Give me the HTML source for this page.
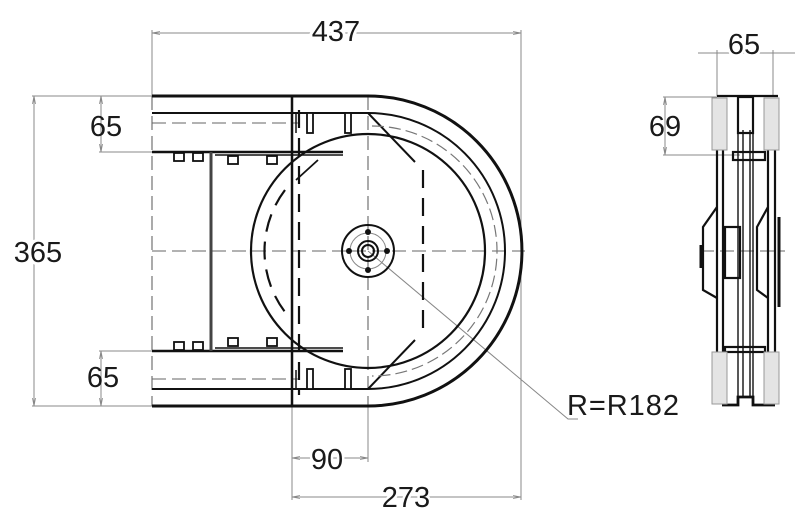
<!DOCTYPE html>
<html><head><meta charset="utf-8"><style>
html,body{margin:0;padding:0;background:#fff;}
svg{display:block;}
text{font-family:"Liberation Sans",sans-serif;fill:#1a1a1a;}
</style></head><body>
<svg width="800" height="522" viewBox="0 0 800 522" xmlns="http://www.w3.org/2000/svg">
<defs>
<marker id="a" markerWidth="8" markerHeight="6" refX="8" refY="3" orient="auto-start-reverse" markerUnits="userSpaceOnUse"><path d="M0,1.5 L8,3 L0,4.5" fill="none" stroke="#888" stroke-width="0.8"/></marker>
</defs>
<g stroke="#888" stroke-width="1" fill="none">
<line x1="152" y1="33" x2="521" y2="33" marker-start="url(#a)" marker-end="url(#a)"/>
<line x1="152" y1="30" x2="152" y2="96"/>
<line x1="521" y1="30" x2="521" y2="500"/>
<line x1="34" y1="96" x2="34" y2="406" marker-start="url(#a)" marker-end="url(#a)"/>
<line x1="32" y1="96" x2="152" y2="96"/>
<line x1="32" y1="406" x2="152" y2="406"/>
<line x1="101" y1="96" x2="101" y2="152" marker-start="url(#a)" marker-end="url(#a)"/>
<line x1="99" y1="152" x2="152" y2="152"/>
<line x1="101" y1="351" x2="101" y2="406" marker-start="url(#a)" marker-end="url(#a)"/>
<line x1="99" y1="351" x2="152" y2="351"/>
<line x1="292" y1="406" x2="292" y2="500"/>
<line x1="368" y1="406" x2="368" y2="462"/>
<line x1="292" y1="458" x2="368" y2="458" marker-start="url(#a)" marker-end="url(#a)"/>
<line x1="292" y1="497" x2="521" y2="497" marker-start="url(#a)" marker-end="url(#a)"/>
<polyline points="368,251 568,419 578,419"/>
<line x1="698" y1="53" x2="795" y2="53"/>
<line x1="717" y1="50" x2="717" y2="96"/>
<line x1="773" y1="50" x2="773" y2="96"/>
<line x1="665" y1="97" x2="665" y2="155" marker-start="url(#a)" marker-end="url(#a)"/>
<line x1="663" y1="97" x2="717" y2="97"/>
<line x1="663" y1="155" x2="740" y2="155"/>
</g>
<g stroke="#666" stroke-width="1.1" fill="none" stroke-dasharray="14,6">
<line x1="152" y1="251" x2="525" y2="251"/>
<line x1="152" y1="96" x2="152" y2="406"/>
<line x1="368" y1="96" x2="368" y2="406"/>
<line x1="292" y1="96" x2="292" y2="406"/>
<line x1="700" y1="251" x2="785" y2="251"/>
<line x1="152" y1="123" x2="300" y2="123"/>
<line x1="152" y1="379" x2="300" y2="379"/>
</g>
<g stroke="#111" stroke-width="2.2" fill="none">
<path d="M152,96 H368 A154,155 0 0 1 368,406 H152" stroke-width="3"/>
<path d="M152,113 H368 A137,138 0 0 1 368,389 H152" stroke-width="2"/>
<line x1="292" y1="96" x2="292" y2="406" stroke-width="2.5"/>
<path d="M296,113 V133 M296,370 V389" stroke-width="1.5"/>
<circle cx="368" cy="251" r="117" stroke-width="2.2"/>
<line x1="152" y1="152" x2="343" y2="152" stroke-width="2.5"/>
<line x1="152" y1="351" x2="343" y2="351" stroke-width="2.5"/>
<line x1="215" y1="155" x2="343" y2="155" stroke-width="1.4"/>
<line x1="215" y1="348" x2="343" y2="348" stroke-width="1.4"/>
<line x1="211" y1="152" x2="211" y2="351" stroke-width="3" stroke="#444"/>
<line x1="368" y1="113" x2="415" y2="162" stroke-width="2"/>
<line x1="368" y1="389" x2="415" y2="340" stroke-width="2"/>
<line x1="296" y1="180" x2="318" y2="160" stroke-width="1.8"/>
</g>
<g stroke="#111" stroke-width="2.2" fill="none" stroke-dasharray="18,10">
<path d="M299,110 V395"/>
<path d="M423,170 V330"/>
<path d="M285,190 A101,101 0 0 0 285,312"/>
</g>
<path d="M372,126 A125,125 0 0 1 372,376" stroke="#777" stroke-width="1.2" fill="none" stroke-dasharray="12,5"/>
<g stroke="#111" stroke-width="1.8" fill="#fff">
<rect x="174" y="153" width="10" height="8"/><rect x="193" y="153" width="10" height="8"/>
<rect x="228" y="156" width="10" height="8"/><rect x="267" y="156" width="10" height="8"/>
<rect x="174" y="342" width="10" height="8"/><rect x="193" y="342" width="10" height="8"/>
<rect x="228" y="338" width="10" height="8"/><rect x="267" y="338" width="10" height="8"/>
<rect x="307" y="113" width="6" height="20"/><rect x="345" y="113" width="6" height="20"/>
<rect x="307" y="369" width="6" height="20"/><rect x="345" y="369" width="6" height="20"/>
</g>
<g stroke="#111" stroke-width="2" fill="none">
<circle cx="368" cy="251" r="26"/>
<circle cx="368" cy="251" r="10"/>
<circle cx="368" cy="251" r="6"/>
<circle cx="368" cy="251" r="18" stroke="#888" stroke-width="1"/>
</g>
<g fill="#111"><circle cx="349" cy="251" r="3"/><circle cx="387" cy="251" r="3"/><circle cx="368" cy="270" r="3"/><circle cx="368" cy="232" r="3"/></g>
<g stroke="#111" stroke-width="2.2" fill="none">
<path d="M717,96 H778"/>
<path d="M722,405 H738 V397 H753 V405 H775" stroke-width="2.8"/>
<line x1="717" y1="137" x2="717" y2="380"/><line x1="723" y1="137" x2="723" y2="380"/>
<line x1="768" y1="137" x2="768" y2="380"/><line x1="775" y1="137" x2="775" y2="380"/>
<line x1="738" y1="96" x2="738" y2="405" stroke-width="1.4"/><line x1="743" y1="130" x2="743" y2="397" stroke-width="1.4"/>
<line x1="750" y1="130" x2="750" y2="397" stroke-width="1.4"/><line x1="753" y1="96" x2="753" y2="405" stroke-width="1.4"/>
<path d="M717,207 L703,227 V290 L717,298"/>
<path d="M768,207 L757,227 V290 L768,298"/>
<rect x="725" y="227" width="15" height="51"/>
<rect x="725" y="347" width="40" height="5"/>
<rect x="733" y="152" width="32" height="8"/>
<rect x="738" y="97" width="15" height="36"/>
<line x1="779" y1="217" x2="779" y2="307" stroke-width="3"/>
<line x1="701" y1="245" x2="701" y2="268" stroke-width="3"/>
</g>
<g stroke="#999" stroke-width="1" fill="#e4e4e4">
<rect x="712" y="98" width="15" height="52"/><rect x="764" y="98" width="15" height="52"/>
<rect x="712" y="352" width="15" height="52"/><rect x="764" y="352" width="15" height="52"/>
</g>
<g font-size="29">
<text x="336" y="41" text-anchor="middle" style="paint-order:stroke" stroke="#fff" stroke-width="6">437</text>
<text x="38" y="262" text-anchor="middle" style="paint-order:stroke" stroke="#fff" stroke-width="6">365</text>
<text x="106" y="136" text-anchor="middle">65</text>
<text x="103" y="387" text-anchor="middle">65</text>
<text x="327" y="469" text-anchor="middle" style="paint-order:stroke" stroke="#fff" stroke-width="5">90</text>
<text x="406" y="507" text-anchor="middle" style="paint-order:stroke" stroke="#fff" stroke-width="5">273</text>
<text x="567" y="415" textLength="112">R=R182</text>
<text x="744" y="54" text-anchor="middle" style="paint-order:stroke" stroke="#fff" stroke-width="5">65</text>
<text x="665" y="136" text-anchor="middle">69</text>
</g>
</svg>
</body></html>
